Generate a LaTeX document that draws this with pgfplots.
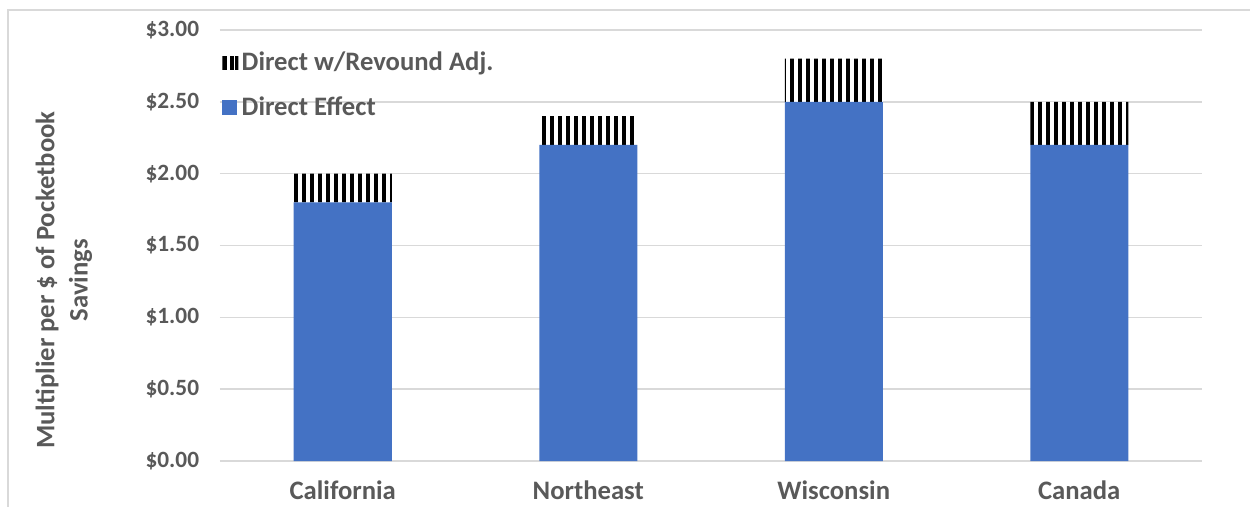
\documentclass[border=0pt]{standalone}
\usepackage{fontspec}
\setmainfont{Carlito}
\usepackage{pgfplots}
\pgfplotsset{compat=1.18}
\usetikzlibrary{patterns.meta}
\definecolor{barblue}{HTML}{4472C4}
\definecolor{txtgray}{HTML}{595959}
\definecolor{gridgray}{HTML}{D9D9D9}
\begin{document}
\begin{tikzpicture}[x=1pt,y=1pt]
\useasboundingbox (0,0) rectangle (750,303.6);
\draw[gridgray, line width=0.9pt] (4.8,-20) -- (4.8,297.6) -- (770,297.6);
\begin{axis}[
  at={(132pt,27pt)}, anchor=south west,
  scale only axis, width=589.2pt, height=258.6pt,
  ybar stacked, bar width=58.8pt,
  xmin=-0.5, xmax=3.5, ymin=0, ymax=3,
  xtick={0,1,2,3}, xticklabels={California,Northeast,Wisconsin,Canada},
  ytick={0,0.5,1,1.5,2,2.5,3},
  /pgf/number format/assume math mode=true,
  yticklabel={\$\pgfmathprintnumber[fixed,fixed zerofill,precision=2]{\tick}},
  axis line style={draw=none},
  major tick length=0pt,
  ymajorgrids, major grid style={gridgray, line width=0.9pt},
  yticklabel style={font=\fontsize{14}{17}\selectfont\bfseries, text=txtgray, xshift=-9pt},
  xticklabel style={font=\fontsize{16}{19}\selectfont\bfseries, text=txtgray, yshift=-8.5pt},
  ylabel={Multiplier per \$ of Pocketbook\\Savings},
  ylabel style={at={(axis description cs:-0.159,0.42)}, anchor=center, align=center,
    font=\fontsize{16}{20}\selectfont\bfseries, text=txtgray},
  legend style={at={(-0.003,0.965)}, anchor=north west, draw=none, fill=none,
    font=\fontsize{16}{19}\selectfont\bfseries, text=txtgray, row sep=10pt,
    legend cell align=left},
  reverse legend,
]
\addplot[fill=barblue, draw=none,
  legend image code/.code={\fill[barblue] (0pt,-4.5pt) rectangle (9pt,4.5pt);}]
  coordinates {(0,1.8) (1,2.2) (2,2.5) (3,2.2)};
\addlegendentry{Direct Effect}
\addplot[fill=white, draw=none,
  postaction={pattern={Lines[angle=90,distance=4.8pt,line width=2.4pt]}, pattern color=black},
  legend image code/.code={\fill[pattern={Lines[angle=90,distance=3.3pt,line width=1.7pt]}, pattern color=black] (0pt,-4pt) rectangle (9.6pt,4pt);}]
  coordinates {(0,0.2) (1,0.2) (2,0.3) (3,0.3)};
\addlegendentry{Direct w/Revound Adj.}
\end{axis}
\end{tikzpicture}
\end{document}
